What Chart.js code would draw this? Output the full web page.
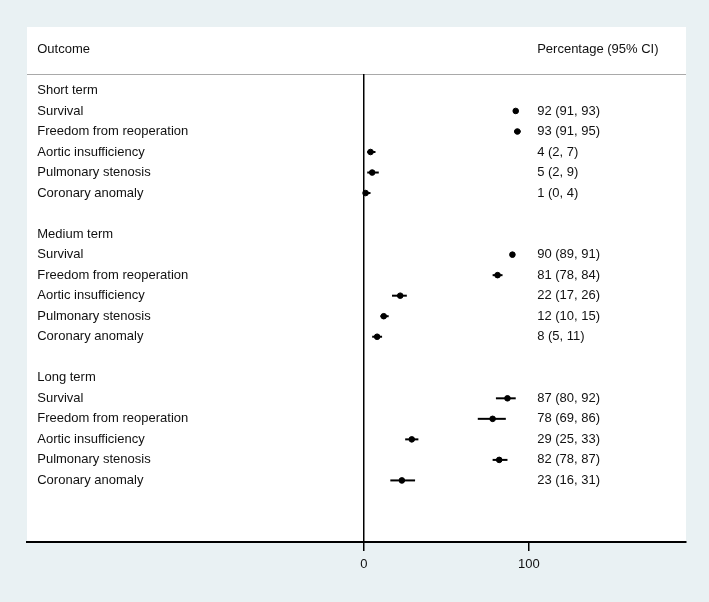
<!DOCTYPE html>
<html>
<head>
<meta charset="utf-8">
<script src="https://cdn.jsdelivr.net/npm/chart.js@4"></script>
<style>
    html, body { margin: 0; padding: 0; background: #e9f1f3; }
    #wrap { width: 709px; height: 602px; }
</style>
</head>
<body>
<div id="wrap"><canvas id="forest" width="709" height="602"></canvas></div>
<script>
// === Данные ===
const groups = ['Short term', 'Medium term', 'Long term'];
const outcomes = ['Survival', 'Freedom from reoperation', 'Aortic insufficiency', 'Pulmonary stenosis', 'Coronary anomaly'];

const shortEst = [92, 93, 4, 5, 1];
const shortLo  = [91, 91, 2, 2, 0];
const shortHi  = [93, 95, 7, 9, 4];

const mediumEst = [90, 81, 22, 12, 8];
const mediumLo  = [89, 78, 17, 10, 5];
const mediumHi  = [91, 84, 26, 15, 11];

const longEst = [87, 78, 29, 82, 23];
const longLo  = [80, 69, 25, 78, 16];
const longHi  = [92, 86, 33, 87, 31];

const xTicks = [0, 100];
const headerLeft = 'Outcome';
const headerRight = 'Percentage (95% CI)';

// строки графика: заголовок группы + 5 исходов, пустая строка между группами
const est = [shortEst, mediumEst, longEst];
const lo = [shortLo, mediumLo, longLo];
const hi = [shortHi, mediumHi, longHi];

const rows = [];
groups.forEach((g, gi) => {
    rows.push({ y: gi * 7, label: g });
    outcomes.forEach((o, i) => {
        rows.push({ y: gi * 7 + 1 + i, label: o, est: est[gi][i], lo: lo[gi][i], hi: hi[gi][i] });
    });
});
const points = rows.filter(r => r.est !== undefined).map(r => ({ x: r.est, y: r.y, lo: r.lo, hi: r.hi }));

const FONT = '13px "Liberation Sans", Arial, sans-serif';
const TEXT = '#111111';
const LABEL_X = -198;   // в единицах оси x
const CI_X = 105;
const HEADER_Y = -2.02;

const forestPlugin = {
    id: 'forest',
    beforeDraw(chart) {
        const { ctx, chartArea } = chart;
        ctx.save();
        ctx.fillStyle = '#ffffff';
        ctx.fillRect(27, 27, chartArea.right - 27, chartArea.bottom - 27);
        // разделитель шапки
        ctx.strokeStyle = '#a9a9a9';
        ctx.lineWidth = 1.2;
        ctx.beginPath();
        ctx.moveTo(chartArea.left, chartArea.top + 0.5);
        ctx.lineTo(chartArea.right, chartArea.top + 0.5);
        ctx.stroke();
        ctx.restore();
    },
    beforeDatasetsDraw(chart) {
        const { ctx, scales: { x, y } } = chart;
        ctx.save();
        ctx.strokeStyle = '#000';
        ctx.lineWidth = 2;
        points.forEach(p => {
            const py = y.getPixelForValue(p.y);
            ctx.beginPath();
            ctx.moveTo(x.getPixelForValue(p.lo), py);
            ctx.lineTo(x.getPixelForValue(p.hi), py);
            ctx.stroke();
        });
        ctx.restore();
    },
    afterDraw(chart) {
        const { ctx, scales: { x, y } } = chart;
        ctx.save();
        ctx.font = FONT;
        ctx.fillStyle = TEXT;
        ctx.textBaseline = 'middle';
        ctx.textAlign = 'left';
        const lx = x.getPixelForValue(LABEL_X);
        const cx = x.getPixelForValue(CI_X);
        ctx.fillText(headerLeft, lx, y.getPixelForValue(HEADER_Y));
        ctx.fillText(headerRight, cx, y.getPixelForValue(HEADER_Y));
        rows.forEach(r => {
            const py = y.getPixelForValue(r.y);
            ctx.fillText(r.label, lx, py);
            if (r.est !== undefined) {
                ctx.fillText(`${r.est} (${r.lo}, ${r.hi})`, cx, py);
            }
        });
        ctx.restore();
    }
};

new Chart(document.getElementById('forest').getContext('2d'), {
    type: 'scatter',
    data: {
        datasets: [{
            data: points,
            backgroundColor: '#000',
            borderColor: '#000',
            pointRadius: 2.8,
            pointHoverRadius: 2.8
        }]
    },
    options: {
        responsive: false,
        animation: false,
        layout: { padding: { top: 74, left: 27, right: 23, bottom: 0 } },
        plugins: {
            legend: { display: false },
            tooltip: { enabled: false }
        },
        scales: {
            x: {
                type: 'linear',
                min: -204.2,
                max: 195.2,
                afterBuildTicks: axis => { axis.ticks = xTicks.map(v => ({ value: v })); },
                afterFit: axis => { axis.height = 60; },
                grid: {
                    drawOnChartArea: true,
                    color: c => (c.tick && c.tick.value === 0 ? '#000' : 'rgba(0,0,0,0)'),
                    lineWidth: 1.5,
                    tickColor: '#000',
                    tickLength: 9,
                    tickWidth: 1.5
                },
                border: { display: true, color: '#000', width: 2 },
                ticks: {
                    color: TEXT,
                    font: { family: '"Liberation Sans", Arial, sans-serif', size: 13 },
                    padding: 6,
                    maxRotation: 0
                }
            },
            y: {
                type: 'linear',
                display: false,
                reverse: true,
                min: -0.8,
                max: 22
            }
        }
    },
    plugins: [forestPlugin]
});
</script>
</body>
</html>
